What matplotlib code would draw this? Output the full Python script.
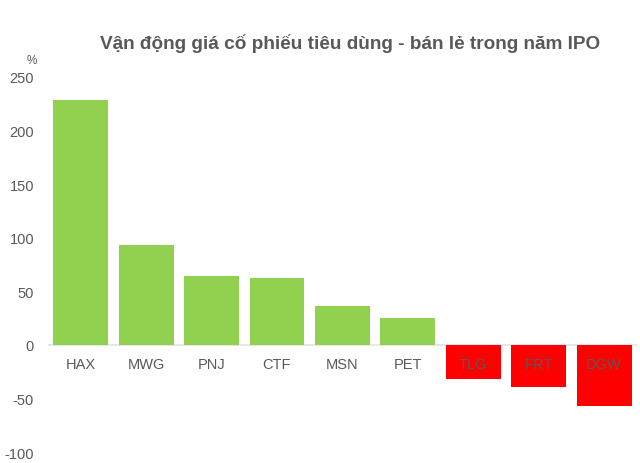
import matplotlib
matplotlib.use("Agg")
import matplotlib.pyplot as plt

categories = ["HAX", "MWG", "PNJ", "CTF", "MSN", "PET", "TLG", "FRT", "DGW"]
values = [228.5, 93.3, 64.4, 62.5, 36.4, 25.2, -31.7, -39.5, -56.8]
yticks = [-100, -50, 0, 50, 100, 150, 200, 250]
title = "Vận động giá cố phiếu tiêu dùng - bán lẻ trong năm IPO"

plt.rcParams['font.family'] = ['Liberation Sans', 'DejaVu Sans']

fig = plt.figure(figsize=(6.4, 4.64), dpi=100)
ax = fig.add_axes([0.075, 0.0237, 0.92, 0.8082])

colors = ["#92d050" if v >= 0 else "#ff0000" for v in values]
x = list(range(len(categories)))
ax.bar(x, values, width=0.84, color=colors, zorder=2)
ax.axhline(0, color="#e3e3e3", lw=1.2, zorder=1)

ax.set_xlim(-0.5, len(categories) - 0.5)
ax.set_ylim(-100, 250)
ax.set_yticks(yticks)
ax.set_yticklabels([str(t) for t in yticks])
ax.tick_params(axis='y', length=0, labelsize=10.5, colors="#595959", pad=10)
ax.set_xticks([])
for s in ax.spines.values():
    s.set_visible(False)

for xi, c in zip(x, categories):
    ax.text(xi, -18, c, ha='center', va='center', fontsize=10.5, color="#595959", zorder=3)

fig.text(0.547, 0.905, title, ha='center', va='center', fontsize=13.7, fontweight='bold', color="#595959")
fig.text(0.05, 0.868, "%", ha='center', va='center', fontsize=8.5, color="#595959")

fig.savefig("out.png", dpi=100)
